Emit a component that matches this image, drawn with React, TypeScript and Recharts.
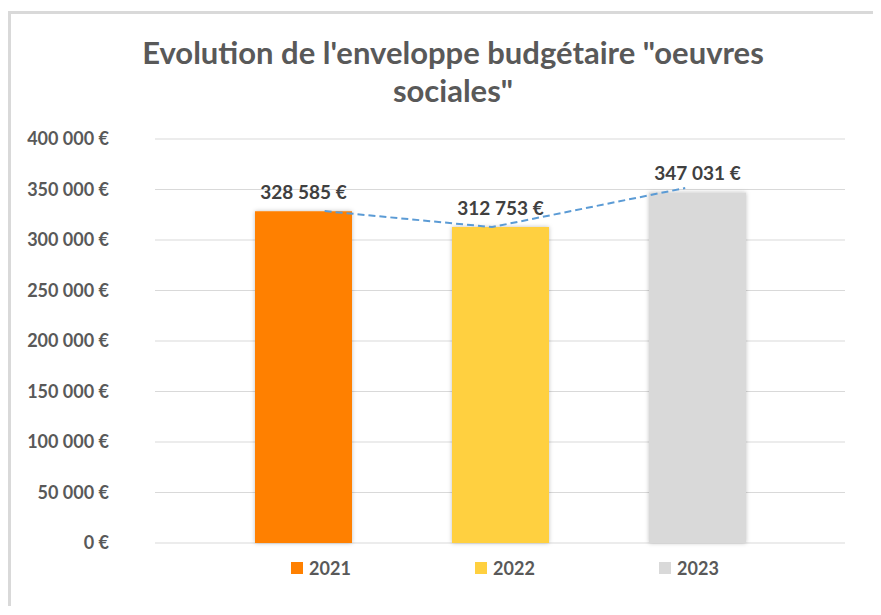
import React from 'react';
import {
  ComposedChart,
  Bar,
  Scatter,
  XAxis,
  YAxis,
  CartesianGrid,
  Legend,
  LabelList
} from 'recharts';

// values
const years = ['2021', '2022', '2023'];
const budgets = [328585, 312753, 347031];
const barColors = ['#FF8000', '#FFD03F', '#D9D9D9'];
const yTicks = [0, 50000, 100000, 150000, 200000, 250000, 300000, 350000, 400000];

// hand-drawn dashed trend line, x in "bar slot" units around the group centre
const trendX = [-0.89, -0.04, 0.94];
const trendY = [328600, 312800, 351500];

const row: Record<string, number | string> = { name: 'budget' };
years.forEach((y, i) => { row[y] = budgets[i]; });
const data = [row];
const trend = trendX.map((x, i) => ({ x, y: trendY[i] }));

const euro = (v: number) =>
  String(v).replace(/\B(?=(\d{3})+(?!\d))/g, ' ') + ' €';

const FONT = 'Lato, "Open Sans", sans-serif';

const LegendContent = () => (
  <div style={{ display: 'flex', justifyContent: 'center', paddingTop: 13, paddingLeft: 10, height: 41 }}>
    {years.map((y, i) => (
      <div key={y} style={{ width: 184, height: 24, display: 'flex', justifyContent: 'center', alignItems: 'center' }}>
        <span style={{ width: 12, height: 12, background: barColors[i], marginRight: 6, display: 'inline-block' }} />
        <span style={{ fontFamily: FONT, fontWeight: 700, fontSize: 18, color: '#595959' }}>{y}</span>
      </div>
    ))}
  </div>
);

export default function App() {
  return (
    <div
      style={{
        position: 'relative',
        marginTop: 3,
        width: 865,
        height: 595,
        boxSizing: 'border-box',
        borderLeft: '3px solid #d9d9d9',
        borderTop: '3px solid #d9d9d9',
        overflow: 'hidden',
        background: '#fff'
      }}
    >
      <div
        style={{
          position: 'absolute',
          left: 42,
          top: 19,
          width: 800,
          textAlign: 'center',
          fontFamily: FONT,
          fontWeight: 700,
          fontSize: 31,
          lineHeight: '38px',
          color: '#595959'
        }}
      >
        Evolution de l'enveloppe budgétaire "oeuvres
        <br />
        sociales"
      </div>
      <div style={{ position: 'absolute', left: 0, top: 0 }}>
        <ComposedChart
          width={850}
          height={583}
          data={data}
          barGap={100}
          margin={{ top: 125, right: 16, left: 0, bottom: 0 }}
        >
          <defs>
            <filter id="barShadow" x="-10%" y="-10%" width="120%" height="120%">
              <feDropShadow dx="0" dy="0" stdDeviation="2" floodColor="#000" floodOpacity="0.25" />
            </filter>
          </defs>
          <CartesianGrid vertical={false} stroke="#d9d9d9" />
          <XAxis dataKey="name" hide />
          <XAxis
            xAxisId="t"
            type="number"
            dataKey="x"
            domain={[-1.751, 1.751]}
            allowDataOverflow
            hide
          />
          <YAxis
            width={144}
            domain={[0, 400000]}
            ticks={yTicks}
            tickFormatter={euro}
            axisLine={false}
            tickLine={false}
            tickSize={0}
            tickMargin={46}
            tick={{ fill: '#595959', fontFamily: FONT, fontWeight: 700, fontSize: 18 }}
          />
          {years.map((y, i) => (
            <Bar
              key={y}
              dataKey={y}
              fill={barColors[i]}
              barSize={97}
              filter="url(#barShadow)"
              isAnimationActive={false}
            >
              <LabelList
                dataKey={y}
                position="top"
                offset={12}
                formatter={(v: number) => euro(v)}
                style={{ fill: '#404040', fontFamily: FONT, fontWeight: 700, fontSize: 19 }}
              />
            </Bar>
          ))}
          <Scatter
            xAxisId="t"
            data={trend}
            dataKey="y"
            legendType="none"
            line={{ stroke: '#5B9BD5', strokeWidth: 2, strokeDasharray: '7 4' }}
            shape={() => <g />}
            isAnimationActive={false}
          />
          <Legend
            verticalAlign="bottom"
            content={<LegendContent />}
            wrapperStyle={{ left: 144, width: 690 }}
          />
        </ComposedChart>
      </div>
    </div>
  );
}
